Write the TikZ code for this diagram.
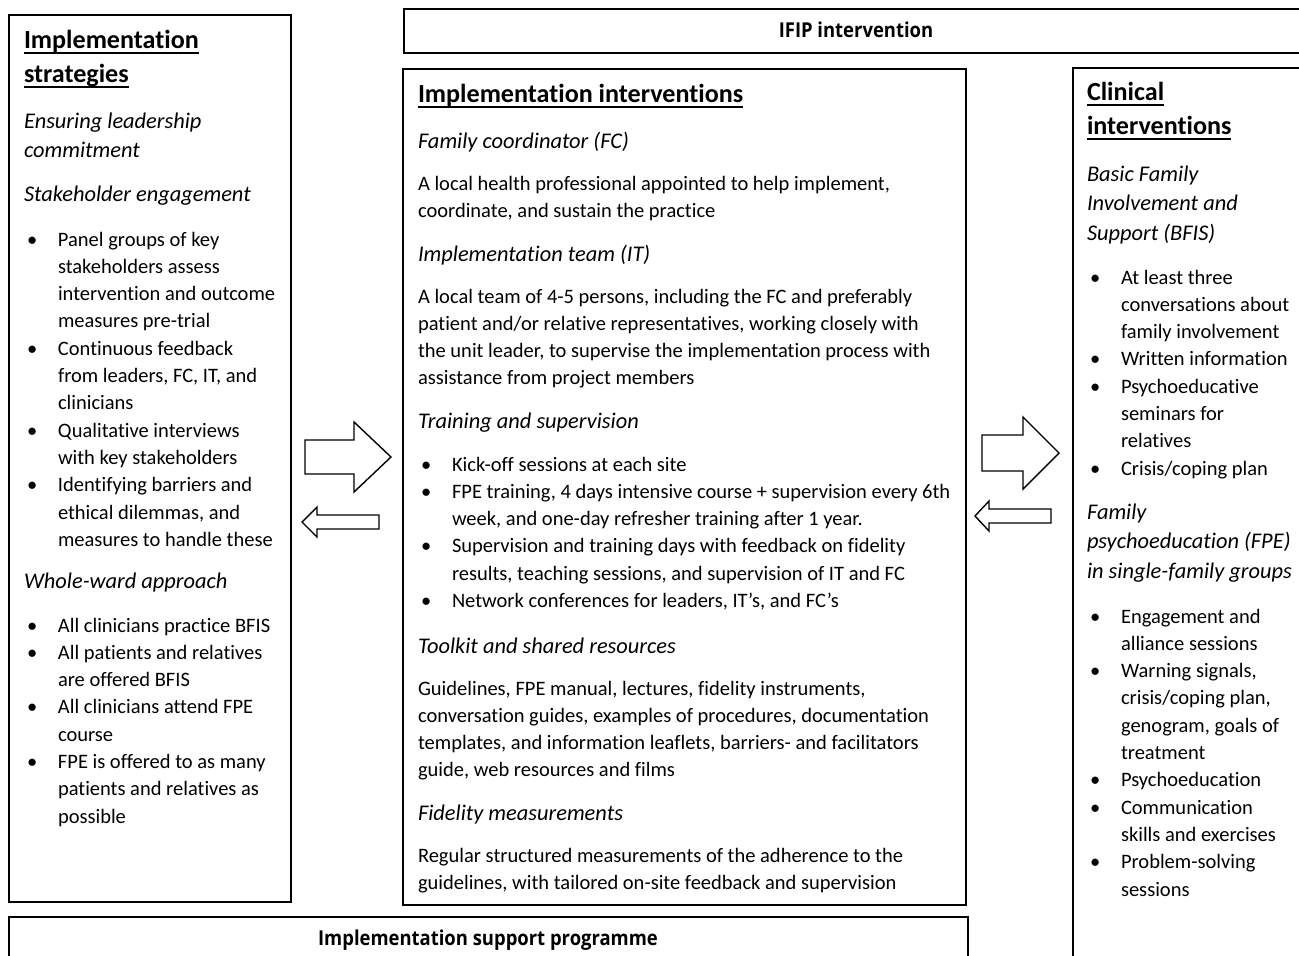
\documentclass[tikz,border=0pt]{standalone}
\usepackage{fontspec}
\setmainfont{Carlito}[Ligatures=NoCommon]
\newfontfamily\bannerfont{Open Sans}[FakeStretch=0.9]

% text sizes (1pt = 1 unit of the drawing grid)
\newcommand\bodysize{\fontsize{20.5}{27.3}\selectfont}
\newcommand\subsize{\fontsize{22.4}{29.5}\selectfont}
\newcommand\headsize{\fontsize{26.1}{34}\selectfont}

% underlined heading word
\newcommand\ulhead[1]{\leavevmode\setbox0\hbox{#1}\rlap{\rule[-6pt]{\wd0}{1.8pt}}\box0}

% bullet list items with hanging indent
\newlength\bulletindent \setlength\bulletindent{34pt}
\newlength\bulletoffset \setlength\bulletoffset{3pt}
\newcommand\bitem[1]{\par\noindent\hangindent=\bulletindent\hangafter=1
  \makebox[\bulletindent][l]{\hspace{\bulletoffset}\textbullet}#1}

\newcommand\col[2]{\parbox[t]{#1}{#2}}

\begin{document}
\begin{tikzpicture}[x=1pt,y=-1pt,
  frame/.style={draw=black, line width=1.6pt},
  blockarrow/.style={draw=black, line width=1.4pt, fill=white, line join=miter},
  txt/.style={anchor=base west, inner sep=0pt, outer sep=0pt},
  body/.style={txt, font=\bodysize},
  sub/.style={txt, font=\subsize\itshape},
  head/.style={txt, font=\headsize\bfseries},
  banner/.style={inner sep=0pt, font=\bannerfont\fontsize{20.5}{24}\selectfont\bfseries}]

\useasboundingbox (0,0) rectangle (1299,956);
\clip (0,0) rectangle (1299,956);
\fill[white] (0,0) rectangle (1299,956);

% ---------- frames ----------
\draw[frame] (9,15) rectangle (291,902);
\draw[frame] (404,9) rectangle (1320,53);
\draw[frame] (403,69) rectangle (966,905);
\draw[frame] (1073,68) rectangle (1320,980);
\draw[frame] (9,917) rectangle (968,980);

\node[banner] (ifip) at (856,30) {IFIP intervention};
\node[banner] (isp) at (488,940) {Implementation support programme};

% ---------- block arrows ----------
\draw[blockarrow] (305,440) -- (354,440) -- (354,422) -- (391,457) -- (354,492) -- (354,474) -- (305,474) -- cycle;
\draw[blockarrow] (379,515) -- (317,515) -- (317,507) -- (302,522) -- (317,537) -- (317,529) -- (379,529) -- cycle;
\draw[blockarrow] (982,435) -- (1023,435) -- (1023,417) -- (1059,453) -- (1023,489) -- (1023,471) -- (982,471) -- cycle;
\draw[blockarrow] (1051,509) -- (989,509) -- (989,501) -- (975,516) -- (989,531) -- (989,523) -- (1051,523) -- cycle;

\begin{scope}[shift={(0,1)}]
% ---------- implementation strategies ----------
\node[head] (ls-h) at (24,47) {\col{260pt}{\ulhead{Implementation}\\\ulhead{strategies}}};
\node[sub] (ls-a) at (24,127) {\col{260pt}{Ensuring leadership\\commitment}};
\node[sub] (ls-b) at (24,200) {Stakeholder engagement};
\node[body] (ls-bl) at (24,245) {\col{400pt}{%
  \bitem{Panel groups of key\\stakeholders assess\\intervention and outcome\\measures pre-trial}
  \bitem{Continuous feedback\\from leaders, FC, IT, and\\clinicians}
  \bitem{Qualitative interviews\\with key stakeholders}
  \bitem{Identifying barriers and\\ethical dilemmas, and\\measures to handle these}}};
\node[sub] (ls-c) at (24,587) {Whole-ward approach};
\node[body] (ls-cl) at (24,631) {\col{400pt}{%
  \bitem{All clinicians practice BFIS}
  \bitem{All patients and relatives\\are offered BFIS}
  \bitem{All clinicians attend FPE\\course}
  \bitem{FPE is offered to as many\\patients and relatives as\\possible}}};

% ---------- implementation interventions ----------
\node[head] (mi-h) at (418,101) {\ulhead{Implementation interventions}};
\node[sub] (mi-a) at (418,147) {Family coordinator (FC)};
\node[body] (mi-at) at (418,189) {\col{600pt}{A local health professional appointed to help implement,\\coordinate, and sustain the practice}};
\node[sub] (mi-b) at (418,260) {Implementation team (IT)};
\node[body] (mi-bt) at (418,302) {\col{600pt}{A local team of 4-5 persons, including the FC and preferably\\patient and/or relative representatives, working closely with\\the unit leader, to supervise the implementation process with\\assistance from project members}};
\node[sub] (mi-c) at (418,427) {Training and supervision};
\node[body] (mi-cl) at (418,470) {\col{600pt}{%
  \bitem{Kick-off sessions at each site}
  \bitem{FPE training, 4 days intensive course + supervision every 6th\\week, and one-day refresher training after 1 year.}
  \bitem{Supervision and training days with feedback on fidelity\\results, teaching sessions, and supervision of IT and FC}
  \bitem{Network conferences for leaders, IT’s, and FC’s}}};
\node[sub] (mi-d) at (418,652) {Toolkit and shared resources};
\node[body] (mi-dt) at (418,694) {\col{600pt}{Guidelines, FPE manual, lectures, fidelity instruments,\\conversation guides, examples of procedures, documentation\\templates, and information leaflets, barriers- and facilitators\\guide, web resources and films}};
\node[sub] (mi-e) at (418,819) {Fidelity measurements};
\node[body] (mi-et) at (418,861) {\col{600pt}{Regular structured measurements of the adherence to the\\guidelines, with tailored on-site feedback and supervision}};

% ---------- clinical interventions ----------
\node[head] (ci-h) at (1087,99) {\col{260pt}{\ulhead{Clinical}\\\ulhead{interventions}}};
\node[sub] (ci-a) at (1087,180) {\col{260pt}{Basic Family\\Involvement and\\Support (BFIS)}};
\node[body] (ci-al) at (1087,283) {\col{400pt}{%
  \bitem{At least three\\conversations about\\family involvement}
  \bitem{Written information}
  \bitem{Psychoeducative\\seminars for\\relatives}
  \bitem{Crisis/coping plan}}};
\node[sub] (ci-b) at (1087,518) {\col{260pt}{Family\\psychoeducation (FPE)\\in single-family groups}};
\node[body] (ci-bl) at (1087,622) {\col{400pt}{%
  \bitem{Engagement and\\alliance sessions}
  \bitem{Warning signals,\\crisis/coping plan,\\genogram, goals of\\treatment}
  \bitem{Psychoeducation}
  \bitem{Communication\\skills and exercises}
  \bitem{Problem-solving\\sessions}}};
\end{scope}
\end{tikzpicture}
\end{document}
